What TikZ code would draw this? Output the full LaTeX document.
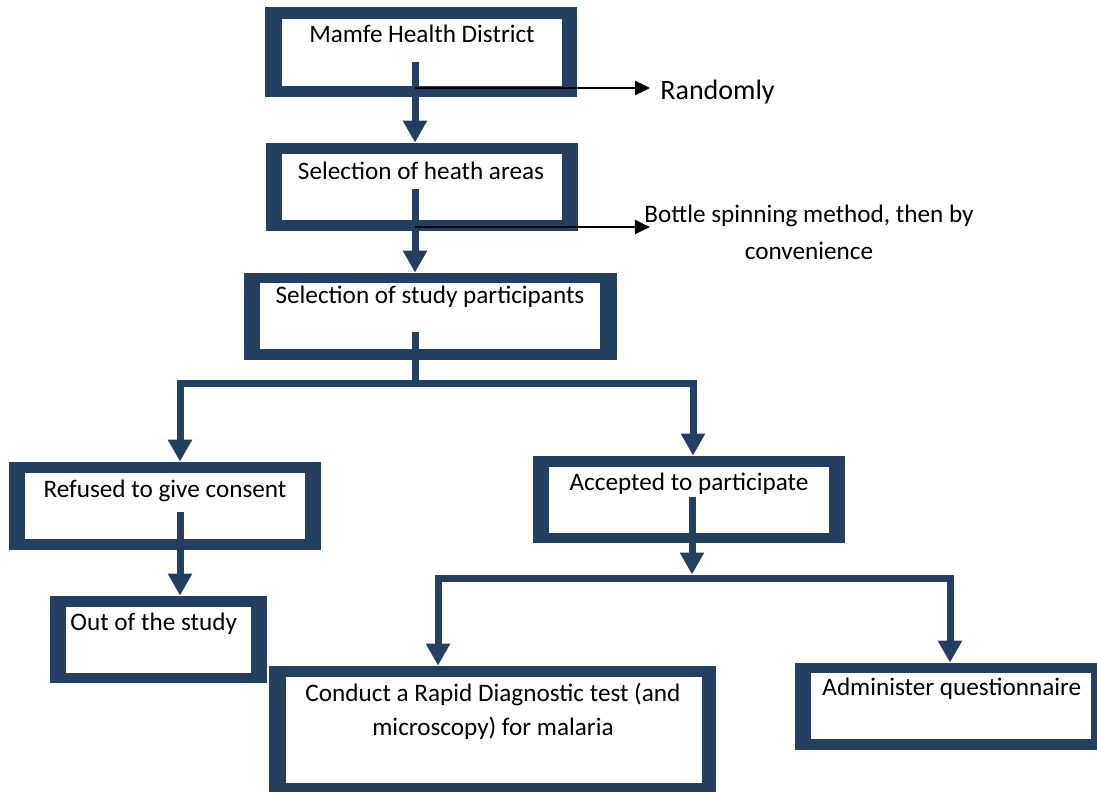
\documentclass[tikz,border=0pt]{standalone}
\usepackage{fontspec}
\setmainfont{Carlito}
\usetikzlibrary{arrows.meta,fit}
\definecolor{flowblue}{HTML}{243F60}
% outer blue frame (named node) and white inside
\def\flowbox(#1)(#2,#3)(#4,#5)(#6,#7)(#8,#9){%
  \node[fit={(#2,#3) (#4,#5)}, inner sep=0pt, fill=flowblue] (#1) {};
  \fill[white] (#6,#7) rectangle (#8,#9);}

\begin{document}
\begin{tikzpicture}[x=0.5pt, y=-0.5pt,
    stem/.style={draw=flowblue, line width=3.5pt},
    bluetip/.tip={Triangle[width=11.5pt,length=11pt]},
    thinarrow/.style={draw=black, line width=1.2pt, -{Triangle[width=7pt,length=7.5pt]}},
    txt/.style={font=\fontsize{12.6}{15}\selectfont, inner sep=0pt, anchor=base}]
			\useasboundingbox (0,0) rectangle (1097,792);
			
			\flowbox(b1)(265,7)(577,97)(282,19)(562,86)
			\flowbox(b2)(266,143)(578,231)(282,154)(562,220)
			\flowbox(b3)(244,273)(617,360)(260,283)(600,349)
			\flowbox(b4)(9,462)(321,550)(25,473)(305,539)
			\flowbox(b6)(533,456)(845,543)(549,467)(829,533)
			\flowbox(b5)(50,596)(267,683)(66,607)(251,673)
			\flowbox(b7)(269,666)(716,792)(286,677)(702,783)
			\flowbox(b8)(795,663)(1097,750)(811,673)(1091,739)
			
			\node[txt] (t1) at (422,43) {Mamfe Health District};
			\node[txt] (t2) at (421,179) {Selection of heath areas};
			\node[txt] (t3) at (430,303) {Selection of study participants};
			\node[txt] (t4) at (165,497) {Refused to give consent};
			\node[txt, anchor=base west] (t5) at (70,630) {Out of the study};
			\node[txt] (t6) at (689,490) {Accepted to participate};
			\node[txt, align=center, font=\fontsize{12.6}{17}\selectfont] (t7) at (493,735)
				{Conduct a Rapid Diagnostic test (and\\microscopy) for malaria};
			\node[txt, anchor=base west] (t8) at (822,695) {Administer questionnaire};
			
			\node[txt, anchor=base west, font=\fontsize{14}{16}\selectfont] (rnd) at (660,99) {Randomly};
			\node[txt, align=center, font=\fontsize{12.6}{18.5}\selectfont] (btl) at (809,259)
				{Bottle spinning method, then by\\convenience};
			
			% main column
			\coordinate (s1) at (415,62);
			\coordinate (r1) at (415,88);
			\draw[stem, -bluetip] (s1) -- (s1 |- b2.north);
			\draw[thinarrow] (r1) -- ([xshift=-5pt]rnd.west |- r1);
			
			\coordinate (s2) at (415,189);
			\coordinate (r2) at (415,227);
			\draw[stem, -bluetip] (s2) -- (s2 |- b3.north);
			\draw[thinarrow] (r2) -- ([xshift=3pt]btl.west |- r2);
			
			% first split
			\coordinate (s3) at (415,332);
			\coordinate (j1) at (415,383);
			\coordinate (jl) at (180,383);
			\coordinate (jr) at (693,383);
			\draw[stem] (s3) -- (j1);
			\draw[stem, bluetip-bluetip] (jl |- b4.north) -- (jl) -- (jr) -- (jr |- b6.north);
			
			\coordinate (s4) at (180,512);
			\draw[stem, -bluetip] (s4) -- (s4 |- b5.north);
			
			% second split
			\coordinate (s6) at (692,497);
			\coordinate (j2) at (692,578);
			\coordinate (kl) at (438,578);
			\coordinate (kr) at (950,578);
			\draw[stem, -bluetip] (s6) -- ([yshift=1.75pt]j2);
			\draw[stem, bluetip-bluetip] (kl |- b7.north) -- (kl) -- (kr) -- (kr |- b8.north);
			
		\end{tikzpicture}
\end{document}
